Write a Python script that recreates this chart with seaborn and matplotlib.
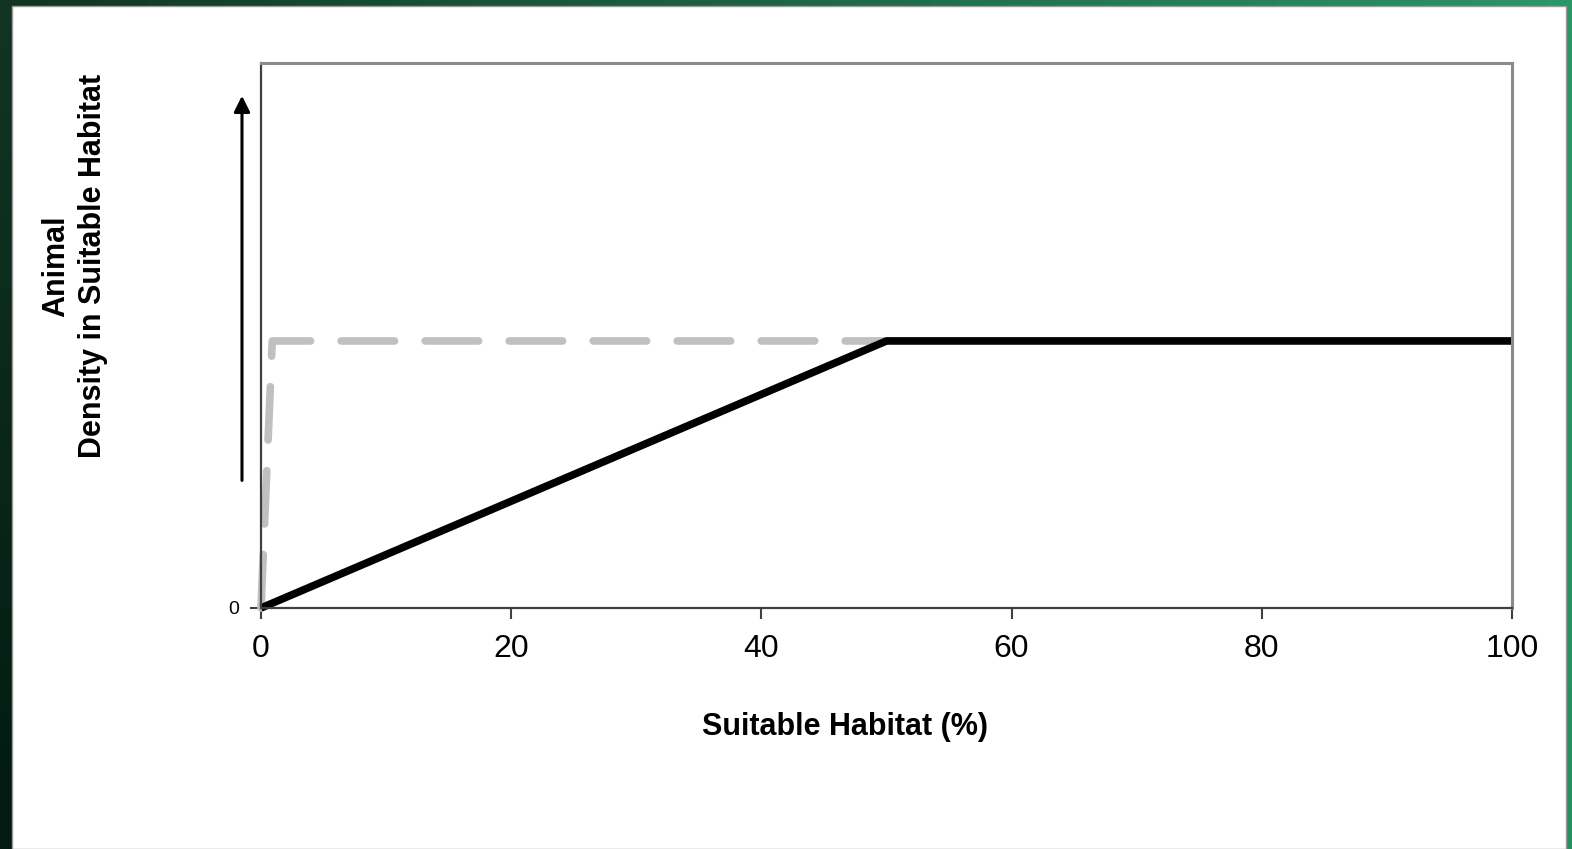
import numpy as np
import pandas as pd
import matplotlib.pyplot as plt
import matplotlib.patches as mpatches
import seaborn as sns

# Values
habitat_pct = [0, 50, 100]            # suitable habitat (%)
density_linear = [0, 0.49, 0.49]      # black line: density rises then levels off
habitat_pct_dash = [0, 0.9, 50]
density_dash = [0, 0.49, 0.49]        # grey dashed line: jumps almost immediately
x_ticks = [0, 20, 40, 60, 80, 100]

sns.set_style('white')
plt.rcParams['font.family'] = ['Liberation Sans', 'DejaVu Sans']
plt.rcParams['text.color'] = 'black'
plt.rcParams['axes.labelcolor'] = 'black'
plt.rcParams['xtick.color'] = 'black'
plt.rcParams['ytick.color'] = 'black'
label_font = ['Liberation Sans Narrow', 'Liberation Sans', 'DejaVu Sans']

fig = plt.figure(figsize=(15.72, 8.49), dpi=100)

# dark-green slide frame with white panel
bg = fig.add_axes([0, 0, 1, 1], zorder=-10)
tl, tr = np.array([0x12, 0x35, 0x23]), np.array([0x2b, 0x96, 0x66])
bl, br = np.array([0x02, 0x1a, 0x10]), np.array([0x28, 0x90, 0x5f])
u = np.linspace(0, 1, 64)[None, :, None]
v = np.linspace(0, 1, 32)[:, None, None]
grad = ((1 - v) * ((1 - u) * tl + u * tr) + v * ((1 - u) * bl + u * br)) / 255
bg.imshow(grad, aspect='auto', extent=[0, 1, 0, 1], origin='upper')
bg.add_patch(mpatches.Rectangle((12 / 1572, 0), (1566 - 12) / 1572, 1 - 6 / 849,
                                transform=bg.transAxes, facecolor='white',
                                edgecolor='#9a9a9a', lw=1))
bg.set_xlim(0, 1)
bg.set_ylim(0, 1)
bg.axis('off')

ax = fig.add_axes([261 / 1572, 1 - 608 / 849, (1512 - 261) / 1572, (608 - 63) / 849])
ax.set_facecolor('white')

dash_df = pd.DataFrame({'habitat': habitat_pct_dash, 'density': density_dash})
line_df = pd.DataFrame({'habitat': habitat_pct, 'density': density_linear})

sns.lineplot(data=dash_df, x='habitat', y='density', ax=ax, color='#c0c0c0',
             lw=5.5, sort=False)
dash_line = ax.lines[-1]
dash_line.set_dashes((7, 4))
dash_line.set_dash_capstyle('round')
sns.lineplot(data=line_df, x='habitat', y='density', ax=ax, color='black',
             lw=5.5, sort=False)
ax.lines[-1].set_solid_capstyle('butt')
for ln in ax.lines:
    ln.set_clip_on(False)

ax.set_xlim(0, 100)
ax.set_ylim(0, 1)
ax.set_xticks(x_ticks)
ax.set_xticklabels([str(t) for t in x_ticks], fontsize=23)
ax.set_yticks([0])
ax.set_yticklabels(['0'], fontsize=14)
ax.tick_params(axis='x', direction='out', length=8, width=1.5, color='#404040', pad=11, bottom=True)
ax.tick_params(axis='y', direction='out', length=8, width=1.5, color='#404040', pad=8, left=True)

for side in ['top', 'right']:
    ax.spines[side].set_color('#8a8a8a')
    ax.spines[side].set_linewidth(2.2)
for side in ['left', 'bottom']:
    ax.spines[side].set_color('#404040')
    ax.spines[side].set_linewidth(1.6)

ax.set_xlabel('Suitable Habitat (%)', fontsize=22, fontweight='bold', family=label_font, va='center')
ax.xaxis.set_label_coords((845 - 261) / 1251, (608 - 727) / 545)
ax.set_ylabel('Animal\nDensity in Suitable Habitat', fontsize=22, fontweight='bold',
              family=label_font, va='center', linespacing=1.3)
ax.yaxis.set_label_coords((75 - 261) / 1251, (608 - 266) / 545)

# upward arrow beside the y axis
ax.annotate('', xy=(-1.52, 0.945), xytext=(-1.52, 0.229),
            arrowprops=dict(arrowstyle='-|>', lw=2.2, color='black', mutation_scale=24),
            annotation_clip=False)

fig.savefig('out.png', dpi=100)
